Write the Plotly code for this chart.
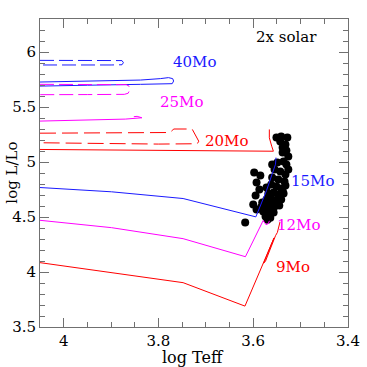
import plotly.graph_objects as go

# ---- evolutionary tracks (log Teff, log L/Lo) ----
t40_dash_teff = [4.05, 3.90, 3.877, 3.874, 3.877, 3.90, 4.05]
t40_dash_logl = [5.924, 5.924, 5.922, 5.903, 5.884, 5.882, 5.882]
t40_teff = [4.05, 3.95, 3.838, 3.796, 3.779, 3.770, 3.768, 3.771, 3.796, 3.838, 3.95, 4.05]
t40_logl = [5.727, 5.735, 5.745, 5.758, 5.767, 5.758, 5.736, 5.712, 5.709, 5.706, 5.698, 5.690]

t25_dash_teff = [4.05, 3.95, 3.868, 3.862, 3.861, 3.864, 3.872, 3.95, 4.05]
t25_dash_logl = [5.706, 5.706, 5.703, 5.690, 5.650, 5.625, 5.615, 5.613, 5.612]
t25_teff = [4.05, 3.95, 3.87, 3.835, 3.845, 3.852]
t25_logl = [5.372, 5.380, 5.390, 5.402, 5.415, 5.412]

t20_dash_teff = [4.05, 3.90, 3.776, 3.771, 3.768, 3.729, 3.715, 3.718, 3.80, 3.95, 4.05]
t20_dash_logl = [5.262, 5.264, 5.268, 5.285, 5.300, 5.300, 5.189, 5.166, 5.163, 5.170, 5.175]
t20_teff = [4.05, 3.80, 3.5575, 3.561, 3.566, 3.566]
t20_logl = [5.114, 5.107, 5.098, 5.144, 5.220, 5.296]

t15_teff = [4.05, 3.899, 3.748, 3.5945, 3.572, 3.562, 3.553, 3.552]
t15_logl = [4.768, 4.729, 4.668, 4.501, 4.740, 4.860, 4.980, 5.040]

t12_teff = [4.05, 3.899, 3.748, 3.6165, 3.579, 3.573, 3.568, 3.566]
t12_logl = [4.470, 4.403, 4.303, 4.139, 4.468, 4.430, 4.440, 4.465]

t9_teff = [4.05, 3.899, 3.748, 3.6175, 3.592, 3.586, 3.556, 3.560, 3.578, 3.574, 3.553, 3.549, 3.5435]
t9_logl = [4.085, 3.995, 3.903, 3.690, 3.945, 4.020, 4.310, 4.270, 4.080, 4.100, 4.330, 4.360, 4.455]

# ---- observed stars ----
star_teff = [3.551, 3.541, 3.528, 3.543, 3.532, 3.538,
             3.538, 3.530, 3.526, 3.536, 3.549, 3.560, 3.530,
             3.555, 3.543, 3.532, 3.526, 3.560, 3.547, 3.534,
             3.598, 3.585, 3.593, 3.587, 3.595, 3.600, 3.593, 3.581,
             3.572, 3.562, 3.551, 3.541, 3.532,
             3.568, 3.557, 3.547, 3.536,
             3.572, 3.562, 3.551, 3.541,
             3.576, 3.566, 3.555, 3.545,
             3.579, 3.568, 3.557,
             3.574, 3.564, 3.570,
             3.538, 3.545, 3.553, 3.566, 3.583,
             3.617]
star_logl = [5.223, 5.232, 5.223, 5.187, 5.160, 5.132,
             5.087, 5.105, 5.050, 5.005, 4.996, 4.977, 4.977,
             4.932, 4.914, 4.886, 4.932, 4.859, 4.841, 4.822,
             4.904, 4.877, 4.813, 4.750, 4.695, 4.613, 4.568, 4.631,
             4.768, 4.795, 4.777, 4.759, 4.786,
             4.713, 4.722, 4.704, 4.713,
             4.659, 4.668, 4.650, 4.659,
             4.604, 4.613, 4.595, 4.604,
             4.549, 4.559, 4.540,
             4.504, 4.494, 4.476,
             4.740, 4.680, 4.630, 4.520, 4.590,
             4.449]

# ---- labels ----
label_text = ["40Mo", "25Mo", "20Mo", "15Mo", "12Mo", "9Mo"]
label_teff = [3.724, 3.752, 3.657, 3.475, 3.505, 3.516]
label_logl = [5.906, 5.546, 5.187, 4.831, 4.430, 4.048]

BLUE = "#1a1aff"
MAG = "#ff00ff"
RED = "#ff0000"
label_colors = [BLUE, MAG, RED, BLUE, MAG, RED]
FONT = "DejaVu Serif"

fig = go.Figure()

fig.add_trace(go.Scatter(x=star_teff, y=star_logl, mode="markers",
                         marker=dict(color="black", size=8, line=dict(width=0))))

def line(x, y, color, dash="solid"):
    fig.add_trace(go.Scatter(x=x, y=y, mode="lines",
                             line=dict(color=color, width=1, dash=dash)))

line(t40_dash_teff, t40_dash_logl, BLUE, "14px,5px")
line(t40_teff, t40_logl, BLUE)
line(t25_dash_teff, t25_dash_logl, MAG, "14px,5px")
line(t25_teff, t25_logl, MAG)
line(t20_dash_teff, t20_dash_logl, RED, "16px,6px")
line(t20_teff, t20_logl, RED)
line(t15_teff, t15_logl, BLUE)
line(t12_teff, t12_logl, MAG)
line(t9_teff, t9_logl, RED)

for t, x, y, c in zip(label_text, label_teff, label_logl, label_colors):
    fig.add_annotation(x=x, y=y, text=t, showarrow=False,
                       font=dict(family=FONT, size=15, color=c))
fig.add_annotation(x=3.529, y=6.138, text="2x solar", showarrow=False,
                   font=dict(family=FONT, size=15, color="black"))

# axis titles
fig.add_annotation(xref="paper", yref="paper", x=0.497, y=-0.100, yanchor="middle",
                   text="log Teff", showarrow=False,
                   font=dict(family=FONT, size=16, color="black"))
fig.add_annotation(xref="paper", yref="paper", x=-0.092, y=0.5, xanchor="center",
                   text="log L/Lo", showarrow=False, textangle=-90,
                   font=dict(family=FONT, size=15, color="black"))

axcol = "#707070"
common = dict(showline=True, linecolor=axcol, linewidth=1, mirror="allticks",
              ticks="inside", tickcolor=axcol, ticklen=9, tickwidth=1,
              showgrid=False, zeroline=False, automargin=False,
              tickfont=dict(family=FONT, size=15, color="black"))

fig.update_xaxes(range=[4.05, 3.4], dtick=0.2, tick0=4.0,
                 minor=dict(ticks="inside", dtick=0.05, ticklen=5, tickcolor=axcol, showgrid=False),
                 **common)
fig.update_yaxes(range=[3.5, 6.3], dtick=0.5, tick0=3.5,
                 minor=dict(ticks="inside", dtick=0.1, ticklen=5, tickcolor=axcol, showgrid=False),
                 **common)

fig.update_layout(width=367, height=367, showlegend=False,
                  margin=dict(l=40, r=19, t=19, b=40),
                  paper_bgcolor="white", plot_bgcolor="white")

fig.write_html("out.html", config={"displayModeBar": False},
               post_script="document.body.style.margin='0px';")
